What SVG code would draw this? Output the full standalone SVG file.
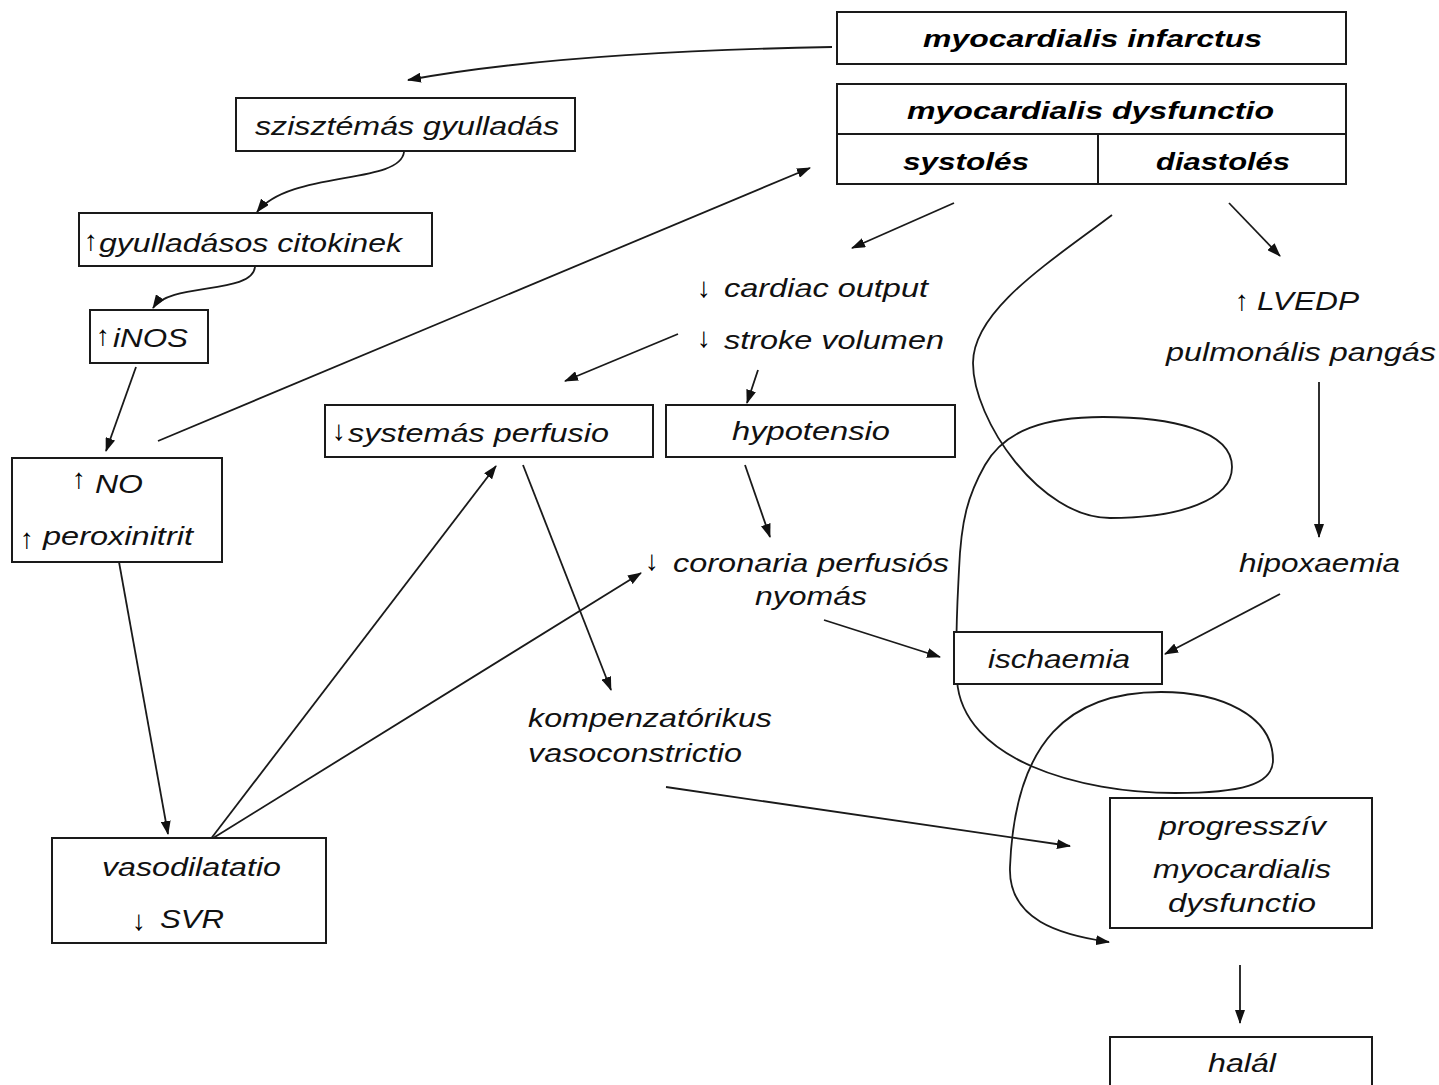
<svg xmlns="http://www.w3.org/2000/svg" width="1439" height="1085" viewBox="0 0 1439 1085">
<style>
.box{fill:#fff;stroke:#1a1a1a;stroke-width:2}
.t{font-family:"Liberation Sans",Arial,sans-serif;font-style:italic;font-size:25px;fill:#111}
.b{font-family:"Liberation Sans",Arial,sans-serif;font-style:italic;font-weight:bold;font-size:24px;fill:#000}
.ar{font-family:"Liberation Sans",Arial,sans-serif;font-weight:bold;font-size:28px;fill:#000}
.c{fill:none;stroke:#1a1a1a;stroke-width:1.8}
</style>
<defs>
<marker id="ah" markerUnits="userSpaceOnUse" markerWidth="14" markerHeight="10" refX="13" refY="5" orient="auto">
<path d="M0,0 L14,5 L0,10 z" fill="#111"/>
</marker>
</defs>
<rect width="1439" height="1085" fill="#fff"/>

<g id="connectors">
<path class="c" marker-end="url(#ah)" d="M832,47 Q560,52 408,80"/>
<path class="c" marker-end="url(#ah)" d="M404,152 C400,185 290,170 257,212"/>
<path class="c" marker-end="url(#ah)" d="M255,267 C252,295 170,282 153,308"/>
<path class="c" marker-end="url(#ah)" d="M136,367 L106,451"/>
<path class="c" marker-end="url(#ah)" d="M158,441 L810,168"/>
<path class="c" marker-end="url(#ah)" d="M119,562 L168,834"/>
<path class="c" marker-end="url(#ah)" d="M210,840 L496,466"/>
<path class="c" marker-end="url(#ah)" d="M210,840 L641,573"/>
<path class="c" marker-end="url(#ah)" d="M954,203 L852,248"/>
<path class="c" marker-end="url(#ah)" d="M1229,203 L1280,256"/>
<path class="c" marker-end="url(#ah)" d="M678,334 L565,381"/>
<path class="c" marker-end="url(#ah)" d="M758,370 L747,403"/>
<path class="c" marker-end="url(#ah)" d="M745,465 L770,537"/>
<path class="c" marker-end="url(#ah)" d="M523,465 L611,690"/>
<path class="c" marker-end="url(#ah)" d="M824,620 L940,657"/>
<path class="c" marker-end="url(#ah)" d="M1319,382 L1319,537"/>
<path class="c" marker-end="url(#ah)" d="M1280,594 L1165,654"/>
<path class="c" marker-end="url(#ah)" d="M666,787 L1070,846"/>
<path class="c" marker-end="url(#ah)" d="M1240,965 L1240,1023"/>
<path class="c" marker-end="url(#ah)" d="M1112,215 C1050,262 973,310 973,363 C973,420 1040,518 1110,518 C1180,518 1232,500 1232,467 C1232,430 1170,417 1103,417 C1045,417 1005,430 985,465 C968,495 961,520 959,570 C957,610 955,640 957,680 C962,760 1080,793 1175,793 C1240,793 1273,785 1273,760 C1273,715 1220,692 1161,692 C1070,692 1015,740 1010,867 C1008,920 1060,935 1109,942"/>
</g>

<g id="n_infarctus">
<rect class="box" x="837" y="12" width="509" height="52"/>
<text class="b" x="923" y="47" textLength="339" lengthAdjust="spacingAndGlyphs">myocardialis infarctus</text>
</g>

<g id="n_dysfunctio">
<rect class="box" x="837" y="84" width="509" height="100"/>
<line x1="837" y1="134" x2="1346" y2="134" stroke="#1a1a1a" stroke-width="2"/>
<line x1="1098" y1="134" x2="1098" y2="184" stroke="#1a1a1a" stroke-width="2"/>
<text class="b" x="907" y="119" textLength="367" lengthAdjust="spacingAndGlyphs">myocardialis dysfunctio</text>
<text class="b" x="903" y="170" textLength="126" lengthAdjust="spacingAndGlyphs">systolés</text>
<text class="b" x="1156" y="170" textLength="134" lengthAdjust="spacingAndGlyphs">diastolés</text>
</g>

<g id="n_szisztemas">
<rect class="box" x="236" y="98" width="339" height="53"/>
<text class="t" x="255" y="135" textLength="304" lengthAdjust="spacingAndGlyphs">szisztémás gyulladás</text>
</g>

<g id="n_citokinek">
<rect class="box" x="79" y="213" width="353" height="53"/>
<text class="ar" x="84" y="250">↑</text>
<text class="t" x="99" y="252" textLength="303" lengthAdjust="spacingAndGlyphs">gyulladásos citokinek</text>
</g>

<g id="n_inos">
<rect class="box" x="90" y="310" width="118" height="53"/>
<text class="ar" x="96" y="345">↑</text>
<text class="t" x="113" y="347" textLength="75" lengthAdjust="spacingAndGlyphs">iNOS</text>
</g>

<g id="n_no">
<rect class="box" x="12" y="458" width="210" height="104"/>
<text class="ar" x="72" y="488">↑</text>
<text class="t" x="95" y="493" textLength="48" lengthAdjust="spacingAndGlyphs">NO</text>
<text class="ar" x="20" y="548">↑</text>
<text class="t" x="43" y="545" textLength="150" lengthAdjust="spacingAndGlyphs">peroxinitrit</text>
</g>

<g id="n_systemas">
<rect class="box" x="325" y="405" width="328" height="52"/>
<text class="ar" x="332" y="440">↓</text>
<text class="t" x="348" y="442" textLength="261" lengthAdjust="spacingAndGlyphs">systemás perfusio</text>
</g>

<g id="n_hypotensio">
<rect class="box" x="666" y="405" width="289" height="52"/>
<text class="t" x="732" y="440" textLength="158" lengthAdjust="spacingAndGlyphs">hypotensio</text>
</g>

<g id="n_cardiac">
<text class="ar" x="697" y="297">↓</text>
<text class="t" x="724" y="297" textLength="204" lengthAdjust="spacingAndGlyphs">cardiac output</text>
</g>

<g id="n_stroke">
<text class="ar" x="697" y="347">↓</text>
<text class="t" x="724" y="349" textLength="220" lengthAdjust="spacingAndGlyphs">stroke volumen</text>
</g>

<g id="n_coronaria">
<text class="ar" x="645" y="570">↓</text>
<text class="t" x="673" y="572" textLength="276" lengthAdjust="spacingAndGlyphs">coronaria perfusiós</text>
<text class="t" x="755" y="605" textLength="112" lengthAdjust="spacingAndGlyphs">nyomás</text>
</g>

<g id="n_lvedp">
<text class="ar" x="1235" y="310">↑</text>
<text class="t" x="1257" y="310" textLength="102" lengthAdjust="spacingAndGlyphs">LVEDP</text>
<text class="t" x="1166" y="361" textLength="270" lengthAdjust="spacingAndGlyphs">pulmonális pangás</text>
</g>

<g id="n_hipoxaemia">
<text class="t" x="1239" y="572" textLength="161" lengthAdjust="spacingAndGlyphs">hipoxaemia</text>
</g>

<g id="n_ischaemia">
<rect class="box" x="954" y="632" width="208" height="52"/>
<text class="t" x="988" y="668" textLength="142" lengthAdjust="spacingAndGlyphs">ischaemia</text>
</g>

<g id="n_kompenzatorikus">
<text class="t" x="528" y="727" textLength="244" lengthAdjust="spacingAndGlyphs">kompenzatórikus</text>
<text class="t" x="528" y="762" textLength="214" lengthAdjust="spacingAndGlyphs">vasoconstrictio</text>
</g>

<g id="n_vasodilatatio">
<rect class="box" x="52" y="838" width="274" height="105"/>
<text class="t" x="102" y="876" textLength="179" lengthAdjust="spacingAndGlyphs">vasodilatatio</text>
<text class="ar" x="132" y="930" font-size="48">↓</text>
<text class="t" x="160" y="928" textLength="64" lengthAdjust="spacingAndGlyphs">SVR</text>
</g>

<g id="n_progressziv">
<rect class="box" x="1110" y="798" width="262" height="130"/>
<text class="t" x="1159" y="835" textLength="167" lengthAdjust="spacingAndGlyphs">progresszív</text>
<text class="t" x="1153" y="878" textLength="178" lengthAdjust="spacingAndGlyphs">myocardialis</text>
<text class="t" x="1168" y="912" textLength="148" lengthAdjust="spacingAndGlyphs">dysfunctio</text>
</g>

<g id="n_halal">
<rect class="box" x="1110" y="1037" width="262" height="70"/>
<text class="t" x="1208" y="1072" textLength="68" lengthAdjust="spacingAndGlyphs">halál</text>
</g>
</svg>
